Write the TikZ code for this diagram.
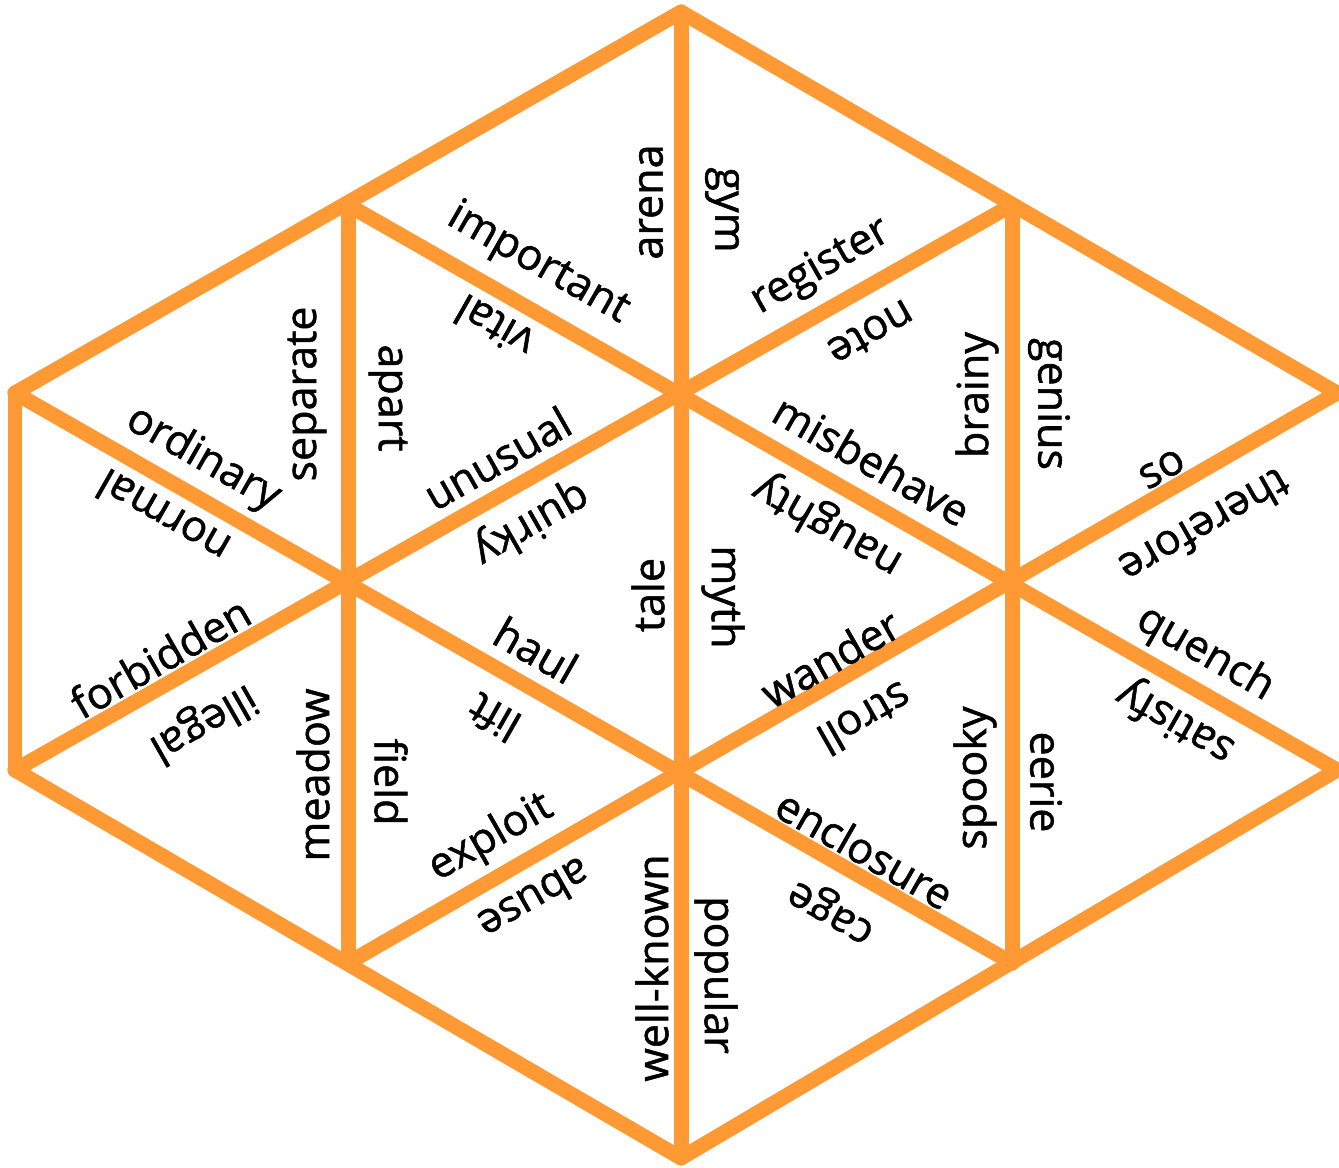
\documentclass[tikz,border=0pt]{standalone}
\usepackage{fontspec}
\setmainfont{Open Sans}
\newfontfamily\wordfont{Open Sans}[FakeBold=1.2]
\usepackage{tikz}
\usetikzlibrary{ % tikz packages
    positioning
}
\definecolor{tileorange}{RGB}{255,153,51}
\tikzset{edge/.style={
    draw=tileorange,
    line width=0.3cm,
    line join=round,
    line cap=round
}}
\tikzset{word/.style={
    inner sep=0pt,
    font=\wordfont\fontsize{24.5}{29}\selectfont
}}

\begin{document}
\begin{tikzpicture}[x=0.02cm,y=-0.02cm]
            \useasboundingbox (0,0) rectangle (1339,1168);
            % corners of the grid
            \coordinate (C0) at (681,12);
            \coordinate (B1) at (348,205);
            \coordinate (D1) at (1012,205);
            \coordinate (A2) at (15,393);
            \coordinate (E2) at (1337,393);
            \coordinate (A4) at (15,770);
            \coordinate (E4) at (1337,770);
            \coordinate (B5) at (348,963);
            \coordinate (D5) at (1012,963);
            \coordinate (C6) at (681,1158);

            \draw[edge] (A2) -- (C0) -- (E2);
            \draw[edge] (A4) -- (C6) -- (E4);
            \draw[edge] (A2) -- (A4);
            \draw[edge] (B1) -- (B5);
            \draw[edge] (C0) -- (C6);
            \draw[edge] (D1) -- (D5);
            \draw[edge] (B1) -- (E4);
            \draw[edge] (D1) -- (A4);
            \draw[edge] (A2) -- (D5);
            \draw[edge] (E2) -- (B5);

            % top
            \node[word, rotate=90] (arena) at (651,202) {arena};
            \node[word, rotate=-90] (gym) at (722,210) {gym};
            \node[word, rotate=-29.7] (important) at (538,264) {important};
            \node[word, rotate=150.3] (vital) at (494,327) {vital};
            \node[word, rotate=29.7] (register) at (821,267) {register};
            \node[word, rotate=209.7] (note) at (871,333) {note};

            % upper row
            \node[word, rotate=90] (separate) at (307,394) {separate};
            \node[word, rotate=-90] (apart) at (388,398) {apart};
            \node[word, rotate=90] (brainy) at (977,395) {brainy};
            \node[word, rotate=-90] (genius) at (1049,404) {genius};
            \node[word, rotate=-29.7] (ordinary) at (203,459) {ordinary};
            \node[word, rotate=150.3] (normal) at (163,517) {normal};
            \node[word, rotate=29.7] (unusual) at (497,458) {unusual};
            \node[word, rotate=209.7] (quirky) at (531,523) {quirky};
            \node[word, rotate=-29.7] (misbehave) at (872,460) {misbehave};
            \node[word, rotate=150.3] (naughty) at (828,525) {naughty};
            \node[word, rotate=29.7] (so) at (1162,469) {so};
            \node[word, rotate=209.7] (therefore) at (1205,527) {therefore};

            % middle
            \node[word, rotate=90] (tale) at (648,595) {tale};
            \node[word, rotate=-90] (myth) at (723,597) {myth};
            \node[word, rotate=29.7] (forbidden) at (160,657) {forbidden};
            \node[word, rotate=209.7] (illegal) at (203,722) {illegal};
            \node[word, rotate=-29.7] (haul) at (536,650) {haul};
            \node[word, rotate=150.3] (lift) at (494,718) {lift};
            \node[word, rotate=29.7] (wander) at (830,658) {wander};
            \node[word, rotate=209.7] (stroll) at (865,719) {stroll};
            \node[word, rotate=-29.7] (quench) at (1205,654) {quench};
            \node[word, rotate=150.3] (satisfy) at (1176,721) {satisfy};

            % lower row
            \node[word, rotate=90] (meadow) at (313,775) {meadow};
            \node[word, rotate=-90] (field) at (391,782) {field};
            \node[word, rotate=90] (spooky) at (975,778) {spooky};
            \node[word, rotate=-90] (eerie) at (1046,782) {eerie};
            \node[word, rotate=29.7] (exploit) at (491,838) {exploit};
            \node[word, rotate=209.7] (abuse) at (535,900) {abuse};
            \node[word, rotate=-29.7] (enclosure) at (865,849) {enclosure};
            \node[word, rotate=150.3] (cage) at (833,909) {cage};

            % bottom
            \node[word, rotate=90] (wellknown) at (652,968) {well-known};
            \node[word, rotate=-90] (popular) at (716,975) {popular};
        \end{tikzpicture}
\end{document}
